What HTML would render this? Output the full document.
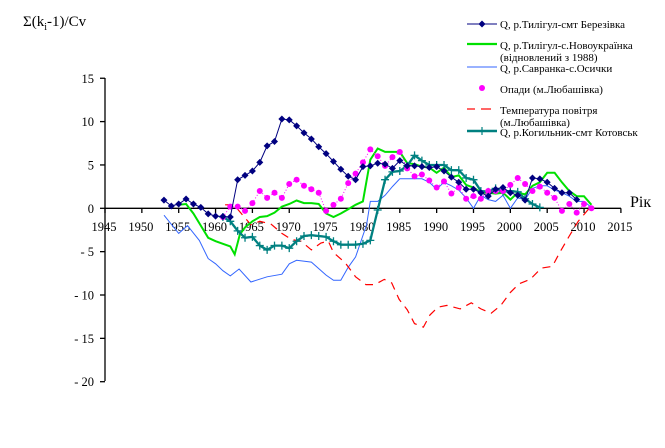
<!DOCTYPE html>
<html><head><meta charset="utf-8"><style>
html,body{margin:0;padding:0;background:#fff;}
svg{display:block;font-family:"Liberation Serif","DejaVu Serif",serif;}
</style></head><body>
<svg id="s" width="665" height="448" viewBox="0 0 665 448" xmlns="http://www.w3.org/2000/svg">
<rect width="665" height="448" fill="#fff"/>
<text x="23" y="26" font-size="15">Σ(k<tspan font-size="10" dy="4">i</tspan><tspan dy="-4">-1)/Cv</tspan></text>
<text x="630" y="207" font-size="16">Рік</text>
<g id="axes" stroke="#000" stroke-width="1.3" fill="none"></g>
<g id="lbl" font-size="12.5" fill="#000"></g>
<g id="series"></g>
<g font-size="11" fill="#000">
<line x1="467" y1="24" x2="497" y2="24" stroke="#000080" stroke-width="1"/>
<path d="M482 20.5 L485.5 24 L482 27.5 L478.5 24Z" fill="#000080"/>
<text x="500" y="28">Q, р.Тилігул-смт Березівка</text>
<line x1="467" y1="44" x2="497" y2="44" stroke="#00e000" stroke-width="2.2"/>
<text x="500" y="49">Q, р.Тилігул-с.Новоукраїнка</text>
<text x="500" y="61">(відновлений з 1988)</text>
<line x1="467" y1="67" x2="497" y2="67" stroke="#3366ff" stroke-width="1"/>
<text x="500" y="72">Q, р.Савранка-с.Осички</text>
<circle cx="482" cy="88" r="3" fill="#ff00ff"/>
<text x="500" y="93">Опади (м.Любашівка)</text>
<line x1="467" y1="109" x2="475" y2="109" stroke="#f00" stroke-width="1.2"/>
<line x1="481" y1="109" x2="491" y2="109" stroke="#f00" stroke-width="1.2"/>
<text x="500" y="114">Температура повітря</text>
<text x="500" y="126">(м.Любашівка)</text>
<line x1="467" y1="131" x2="497" y2="131" stroke="#008080" stroke-width="2.5"/>
<path d="M482 127V135M478 131H486" stroke="#008080" stroke-width="1.2"/>
<text x="500" y="136">Q, р.Когильник-смт Котовськ</text>
</g>
</svg>
<script>
var NS="http://www.w3.org/2000/svg";
function X(y){return 105+(y-1945)*7.37;}
function Y(v){return 208.3-v*8.67;}
function el(t,a,p){var e=document.createElementNS(NS,t);for(var k in a)e.setAttribute(k,a[k]);p.appendChild(e);return e;}
var ax=document.getElementById('axes'),lb=document.getElementById('lbl'),se=document.getElementById('series');
el('line',{x1:105,y1:78,x2:105,y2:381},ax);
el('line',{x1:105,y1:208.3,x2:621,y2:208.3},ax);
for(var v=15;v>=-20;v-=5){var y=Y(v);el('line',{x1:100,y1:y,x2:105,y2:y},ax);
var t=el('text',{x:94,y:y+4.5,'text-anchor':'end'},lb);t.textContent=(v<0?'- '+(-v):v);}
for(var yr=1945;yr<=2015;yr+=5){var x=X(yr);el('line',{x1:x,y1:208.3,x2:x,y2:213},ax);
var t=el('text',{x:x-1,y:231,'text-anchor':'middle'},lb);t.textContent=yr;}
function pts(start,arr){return arr.map(function(v,i){return [X(start+i),Y(v)];});}
function pts2(arr){return arr.map(function(p){return [X(p[0]),Y(p[1])];});}
function line(P,attr){var d=P.map(function(p,i){return (i?'L':'M')+p[0].toFixed(1)+' '+p[1].toFixed(1);}).join('');attr.d=d;attr.fill='none';el('path',attr,se);}
// blue
line(pts2([[1953,-0.8],[1955,-2.9],[1956.2,-2.0],[1957.8,-3.7],[1959,-5.8],[1960,-6.4],[1961,-7.2],[1962,-7.8],[1963.2,-7.0],[1964.8,-8.5],[1967,-7.9],[1969,-7.6],[1970,-6.4],[1971,-6.0],[1973,-6.2],[1975,-7.7],[1976,-8.3],[1977,-8.3],[1978,-6.8],[1979,-5.6],[1980.5,-1.9],[1981,0.8],[1982,0.8],[1983,1.5],[1984,2.5],[1985,3.4],[1986,3.4],[1987,3.4],[1988,3.4],[1989,3.0],[1990,2.2],[1991,3.0],[1992,2.6],[1993,2.1],[1994,1.2],[1995,0],[1996,1.5],[1997,1.0],[1998,0.8],[1999,1.5],[2000,0],[2001,1.2],[2002,1.0],[2003,2.3],[2004,2.6],[2005,2.6],[2006,2.1],[2007,1.8],[2008,1.4],[2009,0.8],[2010,0.8],[2011,0.1]]),{stroke:'#3366ff','stroke-width':1});
// red dashed
line(pts2([[1961.3,0.4],[1962.5,0.4],[1963.5,-0.6],[1964.8,-1.9],[1966,-1.5],[1967.5,-1.8],[1969,-2.9],[1970.3,-3.6],[1971.6,-3.8],[1973,-4.8],[1974.3,-4.0],[1975.3,-3.8],[1976,-5.1],[1977.6,-6.3],[1979,-7.9],[1980.4,-8.8],[1981.6,-8.8],[1982.9,-8.2],[1983.9,-8.6],[1984.9,-10.5],[1986,-11.7],[1987,-13.3],[1988.2,-13.7],[1989.1,-12.3],[1990.2,-11.4],[1991.4,-11.2],[1993.2,-11.6],[1994.7,-10.9],[1996,-11.6],[1997.4,-12.1],[1998.7,-11.2],[2000,-9.7],[2001.2,-8.7],[2002.7,-8.2],[2004.2,-6.9],[2005.7,-6.7],[2006.7,-5.1],[2008,-3.2],[2009.2,-1.5],[2010.7,0]]),{stroke:'#ff0000','stroke-width':1.2,'stroke-dasharray':'8,6'});
// green
line(pts2([[1955,0.4],[1956,0.5],[1957,-0.6],[1958,-2.0],[1959,-3.4],[1960,-3.8],[1961,-4.1],[1962,-4.4],[1962.6,-5.3],[1963.3,-3.0],[1964,-2.2],[1965,-1.5],[1966,-1.0],[1967,-0.9],[1968,-0.5],[1969,0.2],[1970,0.5],[1971,0.9],[1972,0.6],[1973,0.6],[1974,0.5],[1975,-0.6],[1976,-1.0],[1977,-0.6],[1978,-0.1],[1979,0.4],[1980,0.8],[1981,5.6],[1982,6.9],[1983,6.5],[1984,6.5],[1985,6.5],[1986,5.2],[1987,5.1],[1988,4.8],[1989,4.7],[1990,4.1],[1991,4.7],[1992,3.6],[1993,3.8],[1994,2.7],[1995,2.4],[1996,1.8],[1997,1.8],[1998,1.7],[1999,1.8],[2000,1.0],[2001,1.8],[2002,1.6],[2003,2.6],[2004,3.0],[2005,4.1],[2006,4.1],[2007,3.0],[2008,2.0],[2009,1.4],[2010,1.4],[2011,0.4]]),{stroke:'#00e000','stroke-width':2});
// teal
var teal=pts2([[1961,-1.0],[1962,-1.5],[1963,-2.6],[1964,-3.4],[1965,-3.3],[1966,-4.3],[1967,-4.8],[1968,-4.3],[1969,-4.3],[1970,-4.6],[1971,-3.8],[1972,-3.2],[1973,-3.1],[1974,-3.2],[1975,-3.3],[1976,-3.8],[1977,-4.2],[1978,-4.2],[1979,-4.2],[1980,-4.1],[1981,-3.7],[1982,-0.2],[1983,3.3],[1984,4.2],[1985,4.3],[1986,4.9],[1987,6.1],[1988,5.5],[1989,5.0],[1990,5.0],[1991,5.0],[1992,4.4],[1993,4.4],[1994,3.5],[1995,3.3],[1996,2.0],[1997,1.9],[1998,2.3],[1999,1.9],[2000,2.0],[2001,1.9],[2002,1.1],[2003,0.5],[2004,0.1]]);
line(teal,{stroke:'#008080','stroke-width':2.3});
teal.forEach(function(p){el('path',{d:'M'+p[0]+' '+(p[1]-4)+'V'+(p[1]+4)+'M'+(p[0]-4)+' '+p[1]+'H'+(p[0]+4),stroke:'#008080','stroke-width':1.3},se);});
// magenta
var mag=pts(1961,[-1.0,0.2,0.2,-0.3,0.6,2.0,1.2,1.8,1.2,2.8,3.3,2.6,2.2,1.8,-0.3,0.4,1.1,2.9,4.0,5.3,6.8,6.0,4.9,5.9,6.5,4.6,3.7,3.9,3.2,2.4,3.1,1.7,2.4,1.1,1.4,1.1,2.0,2.0,2.0,2.7,3.5,2.8,2.0,2.5,1.8,1.2,-0.3,0.5,-0.5,0.5,0]);
line(mag,{stroke:'#ff00ff','stroke-width':1,'stroke-dasharray':'1,2'});
mag.forEach(function(p){el('circle',{cx:p[0],cy:p[1],r:3,fill:'#ff00ff'},se);});
// navy
var nav=pts(1953,[0.95,0.27,0.5,1.07,0.5,0.1,-0.65,-0.9,-0.95,-1.0,3.3,3.8,4.3,5.3,7.2,7.7,10.3,10.2,9.5,8.7,8.0,7.1,6.3,5.4,4.5,3.7,3.3,4.8,4.9,5.2,5.1,4.6,5.5,4.9,4.9,4.8,4.7,4.8,4.3,3.6,3.0,2.2,2.2,1.8,1.4,2.2,2.4,1.8,1.5,0.95,3.5,3.4,3.0,2.3,1.8,1.8,1.0]);
line(nav,{stroke:'#000080','stroke-width':1});
nav.forEach(function(p){el('path',{d:'M'+p[0]+' '+(p[1]-3.5)+'L'+(p[0]+3.5)+' '+p[1]+'L'+p[0]+' '+(p[1]+3.5)+'L'+(p[0]-3.5)+' '+p[1]+'Z',fill:'#000080'},se);});
</script>
</body></html>
